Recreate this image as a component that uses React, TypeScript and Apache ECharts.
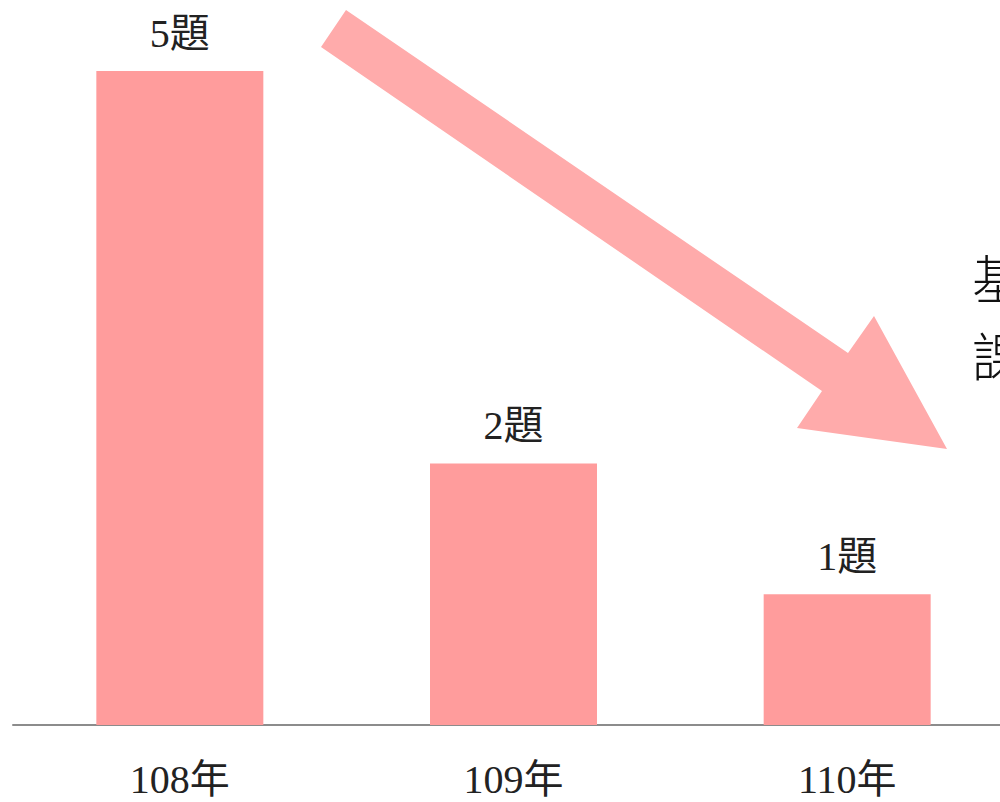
import React, { useEffect, useRef } from "react";
import * as echarts from "echarts";

const categories = ["108年", "109年", "110年"];
const values = [5, 2, 1];
const unit = "題";
const sideTexts = ["基", "課"];

export default function App() {
  const ref = useRef<HTMLDivElement>(null);
  useEffect(() => {
    const chart = echarts.init(ref.current!, undefined, { renderer: "svg" });
    const serif = "'Liberation Serif', 'Noto Sans CJK TC', serif";
    chart.setOption({
      animation: false,
      backgroundColor: "#ffffff",
      grid: { left: 13, top: 71, right: 0, bottom: 77, containLabel: false },
      xAxis: {
        type: "category",
        data: categories,
        axisLine: { show: true, lineStyle: { color: "#8c8c8c", width: 2 } },
        axisTick: { show: false },
        axisLabel: { fontFamily: serif, fontSize: 40, color: "#222", margin: 34 },
      },
      yAxis: {
        type: "value",
        min: 0,
        max: 5,
        show: false,
        splitLine: { show: false },
      },
      series: [
        {
          type: "bar",
          data: values,
          barWidth: 167,
          itemStyle: { color: "#ff9c9c" },
          label: {
            show: true,
            position: "top",
            distance: 18,
            formatter: (p: any) => `${p.value}${unit}`,
            fontFamily: serif,
            fontSize: 40,
            color: "#222",
          },
        },
      ],
      graphic: [
        {
          type: "polygon",
          shape: {
            points: [
              [346, 10],
              [848, 353],
              [874, 316],
              [947, 449],
              [797, 428],
              [822, 391],
              [321, 47],
            ],
          },
          style: { fill: "#ffabab" },
        },
        {
          type: "text",
          left: 972,
          top: 250,
          style: {
            text: sideTexts[0],
            font: "300 52px 'Noto Sans CJK TC', sans-serif",
            fill: "#111",
          },
        },
        {
          type: "text",
          left: 972,
          top: 328,
          style: {
            text: sideTexts[1],
            font: "300 52px 'Noto Sans CJK TC', sans-serif",
            fill: "#111",
          },
        },
      ],
    });
    return () => chart.dispose();
  }, []);
  return (
    <div style={{ width: 1000, height: 802, position: "absolute", left: 0, top: 0, overflow: "hidden" }}>
      <div ref={ref} style={{ width: 1014, height: 802 }} />
    </div>
  );
}
